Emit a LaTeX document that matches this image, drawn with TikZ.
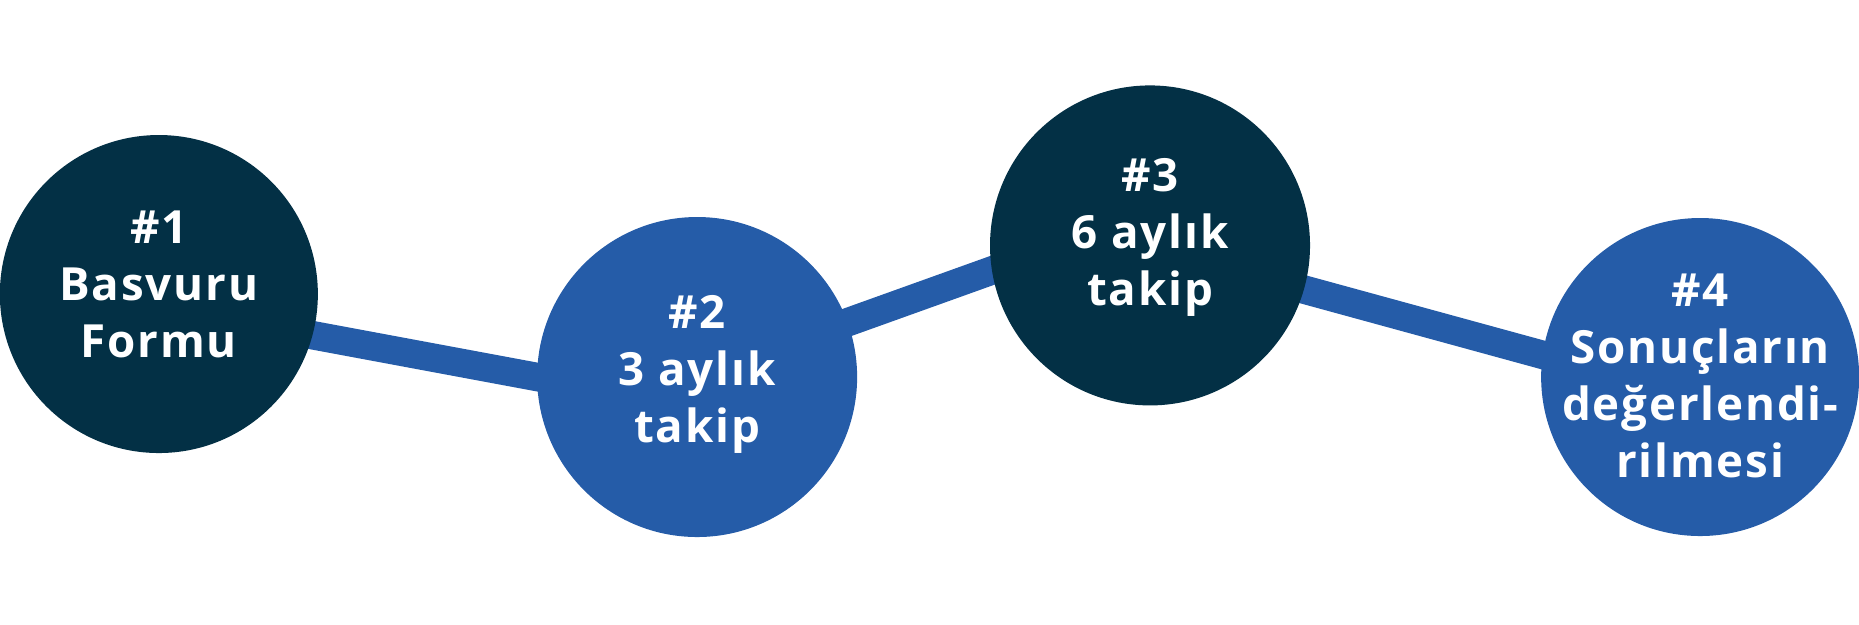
\documentclass[tikz,border=0pt]{standalone}
\usepackage{fontspec}
\usepackage{xcolor}
\usepackage{tikz}
\newfontfamily\stepfont[LetterSpace=4]{Open Sans}
\usetikzlibrary{backgrounds}

\definecolor{navy}{HTML}{033045}
\definecolor{steelblue}{HTML}{255CA8}

\begin{document}
\begin{tikzpicture}[x=0.011856cm, y=0.011856cm,
    disc/.style={shape=circle, inner sep=0pt, outer sep=0pt},
    txt/.style={align=center, text=white, font=\stepfont\bfseries\fontsize{13}{16.2}\selectfont},
    link/.style={draw=steelblue, line width=0.285cm, shorten <=-14pt, shorten >=-14pt}]
    \useasboundingbox (0,0) rectangle (1568,527);

    \node[disc, fill=navy, minimum size=3.18cm] (c1) at (134,279) {};
    \node[disc, fill=steelblue, minimum size=3.20cm] (c2) at (588,209) {};
    \node[disc, fill=navy, minimum size=3.20cm] (c3) at (970,320) {};
    \node[disc, fill=steelblue, minimum size=3.18cm] (c4) at (1434,209) {};

    \node[txt] (t1) at (134,287) {\#1\\Basvuru\\Formu};
    \node[txt] (t2) at (588,211) {\#2\\3 aylık\\takip};
    \node[txt] (t3) at (970,327) {\#3\\6 aylık\\takip};
    \node[txt] (t4) at (1434,210) {\#4\\Sonuçların\\değerlendi-\\rilmesi};

    \begin{pgfonlayer}{background}
    \draw[link] (c1.-15) -- (c2.180);
    \draw[link] (c2.20) -- (c3.189);
    \draw[link] (c3.-16) -- (c4.172);
    \end{pgfonlayer}
\end{tikzpicture}
\end{document}
